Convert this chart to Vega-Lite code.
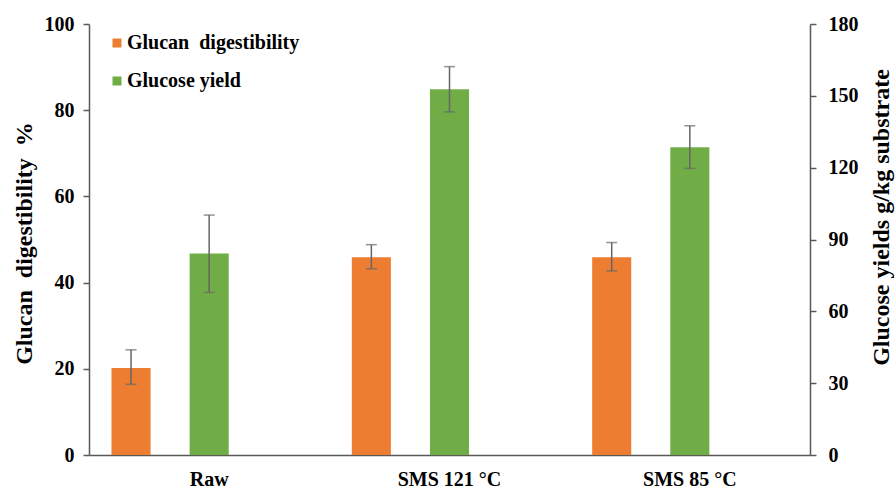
{
  "$schema": "https://vega.github.io/schema/vega-lite/v6.json",
  "autosize": "none",
  "width": 721,
  "height": 431,
  "padding": {"left": 89, "top": 24, "right": 86, "bottom": 35},
  "background": "white",
  "config": {
    "view": {"stroke": null},
    "font": "Liberation Serif",
    "axis": {
      "labelFont": "Liberation Serif",
      "labelFontWeight": "bold",
      "labelFontSize": 20,
      "labelColor": "black",
      "titleFont": "Liberation Serif",
      "titleFontWeight": "bold",
      "titleFontSize": 24,
      "titleColor": "black",
      "domainColor": "#595959",
      "domainWidth": 1.5,
      "tickColor": "#595959",
      "tickWidth": 1.5,
      "grid": false
    },
    "legend": {
      "labelFont": "Liberation Serif",
      "labelFontWeight": "bold",
      "labelFontSize": 20,
      "labelColor": "black",
      "labelLimit": 400,
      "labelOffset": 0,
      "rowPadding": 18,
      "symbolType": "square",
      "symbolSize": 81,
      "symbolStrokeWidth": 0
    }
  },
  "data": {
    "values": [
      {"cat": "Raw", "series": "Glucan  digestibility", "value": 20.2, "lo": 16.4, "hi": 24.4},
      {"cat": "Raw", "series": "Glucose yield", "value": 84.2, "lo": 67.9, "hi": 100.2},
      {"cat": "SMS 121 °C", "series": "Glucan  digestibility", "value": 45.9, "lo": 43.2, "hi": 48.8},
      {"cat": "SMS 121 °C", "series": "Glucose yield", "value": 152.7, "lo": 143.3, "hi": 162.2},
      {"cat": "SMS 85 °C", "series": "Glucan  digestibility", "value": 45.9, "lo": 42.7, "hi": 49.3},
      {"cat": "SMS 85 °C", "series": "Glucose yield", "value": 128.5, "lo": 119.7, "hi": 137.5}
    ]
  },
  "encoding": {
    "x": {
      "field": "cat", "type": "nominal", "sort": null,
      "scale": {"paddingInner": 0, "paddingOuter": 0},
      "axis": {"title": null, "labelAngle": 0, "ticks": false, "tickSize": 0, "labelPadding": 14}
    },
    "xOffset": {
      "field": "series", "type": "nominal",
      "scale": {"domain": ["Glucan  digestibility", "Glucose yield", "_"], "paddingInner": 0.5, "paddingOuter": 0.288}
    }
  },
  "layer": [
    {
      "transform": [{"filter": "datum.series === 'Glucan  digestibility'"}],
      "layer": [
        {
          "mark": {"type": "bar"},
          "encoding": {
            "y": {"field": "value", "type": "quantitative", "scale": {"domain": [0, 100]},
              "axis": {"title": "Glucan \u00a0digestibility \u00a0%", "values": [0, 20, 40, 60, 80, 100], "tickSize": 6, "labelPadding": 9, "titlePadding": 8, "titleY": 219}},
            "color": {
              "field": "series", "type": "nominal",
              "scale": {"domain": ["Glucan  digestibility", "Glucose yield"], "range": ["#ED7D31", "#70AD47"]},
              "legend": {
                "title": null, "orient": "none", "legendX": 18, "legendY": 9,
                "labelExpr": "replace(datum.label, '  ', ' \u00a0')"
              }
            }
          }
        },
        {
          "mark": {"type": "rule", "color": "#666666", "strokeWidth": 1.5},
          "encoding": {
            "y": {"field": "lo", "type": "quantitative", "scale": {"domain": [0, 100]},
              "axis": {"title": "Glucan \u00a0digestibility \u00a0%", "values": [0, 20, 40, 60, 80, 100], "tickSize": 6, "labelPadding": 9, "titlePadding": 8, "titleY": 219}},
            "y2": {"field": "hi"}
          }
        },
        {
          "mark": {"type": "tick", "color": "#666666", "orient": "horizontal", "size": 11, "thickness": 1.5},
          "encoding": {
            "y": {"field": "lo", "type": "quantitative", "scale": {"domain": [0, 100]},
              "axis": {"title": "Glucan \u00a0digestibility \u00a0%", "values": [0, 20, 40, 60, 80, 100], "tickSize": 6, "labelPadding": 9, "titlePadding": 8, "titleY": 219}}
          }
        },
        {
          "mark": {"type": "tick", "color": "#666666", "orient": "horizontal", "size": 11, "thickness": 1.5},
          "encoding": {
            "y": {"field": "hi", "type": "quantitative", "scale": {"domain": [0, 100]},
              "axis": {"title": "Glucan \u00a0digestibility \u00a0%", "values": [0, 20, 40, 60, 80, 100], "tickSize": 6, "labelPadding": 9, "titlePadding": 8, "titleY": 219}}
          }
        }
      ]
    },
    {
      "transform": [{"filter": "datum.series === 'Glucose yield'"}],
      "layer": [
        {
          "mark": {"type": "bar"},
          "encoding": {
            "y": {"field": "value", "type": "quantitative", "scale": {"domain": [0, 180]},
              "axis": {"orient": "right", "title": "Glucose yields g/kg substrate", "values": [0, 30, 60, 90, 120, 150, 180], "tickSize": 6, "labelPadding": 12, "titlePadding": 11, "titleAngle": -90, "titleBaseline": "top", "titleY": 193}},
            "color": {"field": "series", "type": "nominal",
              "scale": {"domain": ["Glucan  digestibility", "Glucose yield"], "range": ["#ED7D31", "#70AD47"]},
              "legend": {
                "title": null, "orient": "none", "legendX": 18, "legendY": 9,
                "labelExpr": "replace(datum.label, '  ', ' \u00a0')"
              }}
          }
        },
        {
          "mark": {"type": "rule", "color": "#666666", "strokeWidth": 1.5},
          "encoding": {
            "y": {"field": "lo", "type": "quantitative", "scale": {"domain": [0, 180]},
              "axis": {"orient": "right", "title": "Glucose yields g/kg substrate", "values": [0, 30, 60, 90, 120, 150, 180], "tickSize": 6, "labelPadding": 12, "titlePadding": 11, "titleAngle": -90, "titleBaseline": "top", "titleY": 193}},
            "y2": {"field": "hi"}
          }
        },
        {
          "mark": {"type": "tick", "color": "#666666", "orient": "horizontal", "size": 11, "thickness": 1.5},
          "encoding": {
            "y": {"field": "lo", "type": "quantitative", "scale": {"domain": [0, 180]},
              "axis": {"orient": "right", "title": "Glucose yields g/kg substrate", "values": [0, 30, 60, 90, 120, 150, 180], "tickSize": 6, "labelPadding": 12, "titlePadding": 11, "titleAngle": -90, "titleBaseline": "top", "titleY": 193}}
          }
        },
        {
          "mark": {"type": "tick", "color": "#666666", "orient": "horizontal", "size": 11, "thickness": 1.5},
          "encoding": {
            "y": {"field": "hi", "type": "quantitative", "scale": {"domain": [0, 180]},
              "axis": {"orient": "right", "title": "Glucose yields g/kg substrate", "values": [0, 30, 60, 90, 120, 150, 180], "tickSize": 6, "labelPadding": 12, "titlePadding": 11, "titleAngle": -90, "titleBaseline": "top", "titleY": 193}}
          }
        }
      ]
    }
  ],
  "resolve": {"scale": {"y": "independent"}}
}
